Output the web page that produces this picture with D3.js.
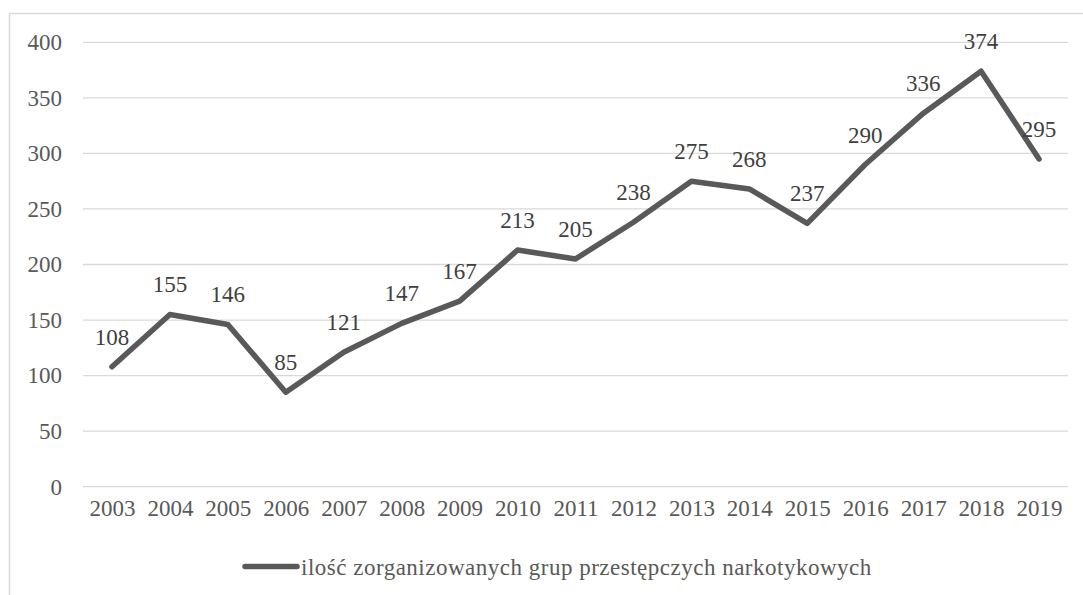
<!DOCTYPE html>
<html><head><meta charset="utf-8">
<script src="https://cdn.jsdelivr.net/npm/d3@7"></script>
<style>html,body{margin:0;padding:0;background:#fff;overflow:hidden}
svg text{font-family:"Liberation Serif","Tinos","Times New Roman","Times","Nimbus Roman","Nimbus Roman No9 L","FreeSerif","Noto Serif","DejaVu Serif",serif !important;}</style>
</head><body>
<svg id="c" width="1083" height="595"></svg>
<script>
const years = ["2003","2004","2005","2006","2007","2008","2009","2010","2011","2012","2013","2014","2015","2016","2017","2018","2019"];
const values = [108,155,146,85,121,147,167,213,205,238,275,268,237,290,336,374,295];
const yTicks = [0,50,100,150,200,250,300,350,400];
const seriesName = "ilość zorganizowanych grup przestępczych narkotykowych";

(function(){
const svg = d3.select("#c");
const pLeft = 83, pRight = 1068, pTop = 42.3, pBottom = 486.7;

svg.append("rect").attr("x",9.5).attr("y",13.5).attr("width",1100).attr("height",600)
  .attr("fill","none").attr("stroke","#d9d9d9").attr("stroke-width",1.5);

const x = d3.scalePoint().domain(years).range([pLeft,pRight]).padding(0.5);
const y = d3.scaleLinear().domain([0,400]).range([pBottom,pTop]);

svg.append("g").selectAll("line").data(yTicks).join("line")
  .attr("x1",pLeft).attr("x2",pRight)
  .attr("y1",d=>y(d)).attr("y2",d=>y(d))
  .attr("stroke","#d9d9d9").attr("stroke-width",1.3);

const yAxis = svg.append("g").attr("transform",`translate(${pLeft},0)`)
  .call(d3.axisLeft(y).tickValues(yTicks).tickSize(0).tickPadding(21));
yAxis.select(".domain").remove();
yAxis.selectAll("text").style("font-size","23px").attr("fill","#595959");

const xAxis = svg.append("g").attr("transform",`translate(0,${pBottom})`)
  .call(d3.axisBottom(x).tickSize(0).tickPadding(13));
xAxis.select(".domain").remove();
xAxis.selectAll("text").style("font-size","23px").attr("fill","#595959");

const line = d3.line().x((d,i)=>x(years[i])).y(d=>y(d));
svg.append("path").datum(values).attr("d",line)
  .attr("fill","none").attr("stroke","#595959").attr("stroke-width",5.5)
  .attr("stroke-linejoin","round").attr("stroke-linecap","round");

svg.append("g").selectAll("text").data(values).join("text")
  .attr("x",(d,i)=>x(years[i])).attr("y",d=>y(d)-22)
  .attr("text-anchor","middle").style("font-size","23px")
  .attr("fill","#404040").text(d=>d);

const lg = svg.append("g");
lg.append("line").attr("x1",245).attr("x2",297).attr("y1",566.5).attr("y2",566.5)
  .attr("stroke","#595959").attr("stroke-width",5.5).attr("stroke-linecap","round");
lg.append("text").attr("x",301).attr("y",566.5).attr("dy","0.35em")
  .style("font-size","23px").style("letter-spacing","0.5px")
  .attr("fill","#595959").text(seriesName);
})();
</script>
</body></html>
